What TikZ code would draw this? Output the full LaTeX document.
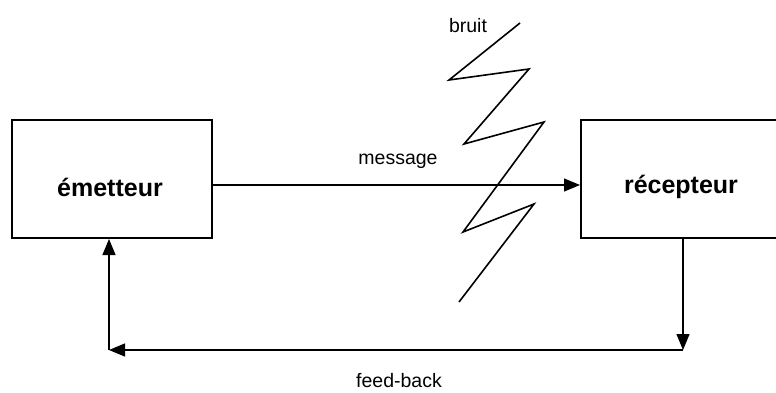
\documentclass[tikz,border=0pt]{standalone}
\usepackage{fontspec}
\setmainfont{Liberation Sans}
\usetikzlibrary{arrows.meta}
\tikzset{
  box/.style={draw, line width=2pt, minimum width=200pt, minimum height=118pt, inner sep=0pt},
  boxtxt/.style={font=\fontsize{25}{29}\selectfont\bfseries, inner sep=0pt},
  conn/.style={line width=1.3pt, -{Triangle[length=16pt, width=13pt]}},
  lbl/.style={font=\fontsize{19.5}{22}\selectfont, inner sep=0pt},
  zig/.style={line width=1.6pt, line join=miter}
}
\begin{document}
\begin{tikzpicture}[x=1pt, y=-1pt]
\useasboundingbox (0,0) rectangle (776,392);
\node[box] (em) at (112,179) {};
\node[box] (rec) at (681,179) {};
\node[boxtxt] (emt) at (110,187) {émetteur};
\node[boxtxt] (rect) at (681,187) {récepteur};
\coordinate (fbR) at (683,350);
\coordinate (fbL) at (109,350);
\draw[conn] ([yshift=-6pt]em.east) -- ([yshift=-6pt]rec.west);
\draw[conn] (rec.south -| fbR) -- (fbR);
\draw[conn] (fbR) -- (fbL);
\draw[conn] (fbL) -- (em.south -| fbL);
\node[lbl] (msg) at (398,161) {message};
\node[lbl] (fb) at (399,381) {feed-back};
\node[lbl] (br) at (468,26) {bruit};
\draw[zig] (520,23) -- (449,80) -- (529,69) -- (464,144) -- (544,122) -- (463,232) -- (534,204) -- (459,302);
\end{tikzpicture}
\end{document}
